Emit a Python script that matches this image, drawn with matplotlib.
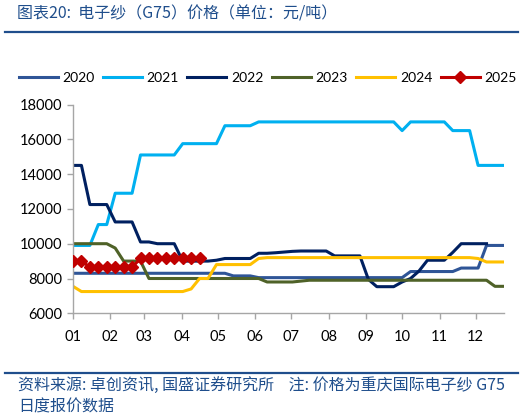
import matplotlib
matplotlib.use('Agg')
import matplotlib.pyplot as plt
import numpy as np

plt.rcParams['font.family'] = ['Lato', 'Noto Sans CJK SC', 'DejaVu Sans']

# weekly price, yuan/ton (week 0 = first week of Jan)
years = ['2020', '2021', '2022', '2023', '2024', '2025']
p2020 = [8300]*19 + [8150]*3 + [8050]*18 + [8400]*6 + [8600]*3 + [9900]*3
p2021 = ([9900]*3 + [11100]*2 + [12900]*3 + [15100]*5 + [15750]*5 + [16780]*4
         + [17000]*17 + [16500] + [17000]*5 + [16500]*3 + [14500]*4)
p2022 = ([14500]*2 + [12250]*3 + [11250]*3 + [10100]*2 + [10000]*3 + [9000]*4
         + [9050, 9150, 9150, 9150, 9150, 9450, 9450, 9480, 9520, 9560, 9580, 9580, 9580, 9580]
         + [9300]*4 + [7950, 7530, 7530, 7530, 7800, 8000, 8430, 9050, 9050, 9050, 9500]
         + [10000]*4)
p2023 = ([10000]*5 + [9750, 9000, 9000, 9000] + [8000]*14 + [7800]*4 + [7850]
         + [7900]*22 + [7550]*2)
p2024 = ([7550] + [7250]*13 + [7400, 8000, 8000] + [8800]*5 + [9150]
         + [9200]*25 + [9150] + [8950]*3)
p2025 = [9000]*2 + [8650]*6 + [9150]*8
prices = [p2020, p2021, p2022, p2023, p2024, p2025]
colors = ['#2F5597', '#00B0F0', '#002060', '#4F6228', '#FFC000', '#C00000']

month_labels = ['01', '02', '03', '04', '05', '06', '07', '08', '09', '10', '11', '12']
month_days = [0, 31, 59, 90, 120, 151, 181, 212, 243, 273, 304, 334]

navy = '#1F4E8C'
cjk = ['Noto Sans CJK SC', 'DejaVu Sans']

fig = plt.figure(figsize=(5.25, 4.18), dpi=100)
ax = fig.add_axes([73/525, 1-313.3/418, (504-73)/525, (313.3-104.5)/418])

for yr, p, c in zip(years, prices, colors):
    x = np.arange(len(p))*7
    if yr == '2025':
        ax.plot(x, p, '-', color=c, lw=2.2, marker='D', markersize=6.5, label=yr, zorder=5)
    else:
        ax.plot(x, p, '-', color=c, lw=2.2, label=yr)

ax.set_xlim(0, 357.5)
ax.set_ylim(6000, 18000)
ax.set_yticks(np.arange(6000, 18001, 2000))
ax.set_xticks(month_days)
ax.set_xticklabels(month_labels)
for s in ['top', 'right']:
    ax.spines[s].set_visible(False)
for s in ['left', 'bottom']:
    ax.spines[s].set_color('#A6A6A6')
    ax.spines[s].set_linewidth(1)
ax.tick_params(axis='both', colors='#A6A6A6', labelcolor='black', labelsize=10.5, length=4, width=1)
ax.tick_params(axis='x', pad=8)

leg = fig.legend(loc='center', bbox_to_anchor=(0.51, 1-78/418), ncol=6, frameon=False,
                 fontsize=10, handlelength=2.8, handletextpad=0.35, columnspacing=0.6)

fig.text(17/525, 1-14/418, '图表20:  电子纱（G75）价格（单位：元/吨）', color=navy, fontsize=11.5,
         style='italic', va='center', ha='left', family=cjk)
fig.add_artist(plt.Line2D([5/525, 518/525], [1-31.7/418, 1-31.7/418], color=navy, lw=1.6,
                          transform=fig.transFigure))
fig.add_artist(plt.Line2D([5/525, 518/525], [1-372.7/418, 1-372.7/418], color=navy, lw=1.6,
                          transform=fig.transFigure))
fig.text(18/525, 1-385/418, '资料来源: 卓创资讯, 国盛证券研究所    注: 价格为重庆国际电子纱 G75',
         color=navy, fontsize=11.5, style='italic', va='center', ha='left', family=cjk)
fig.text(18/525, 1-407/418, '日度报价数据', color=navy, fontsize=11.5, style='italic',
         va='center', ha='left', family=cjk)

fig.savefig('out.png', dpi=100)
